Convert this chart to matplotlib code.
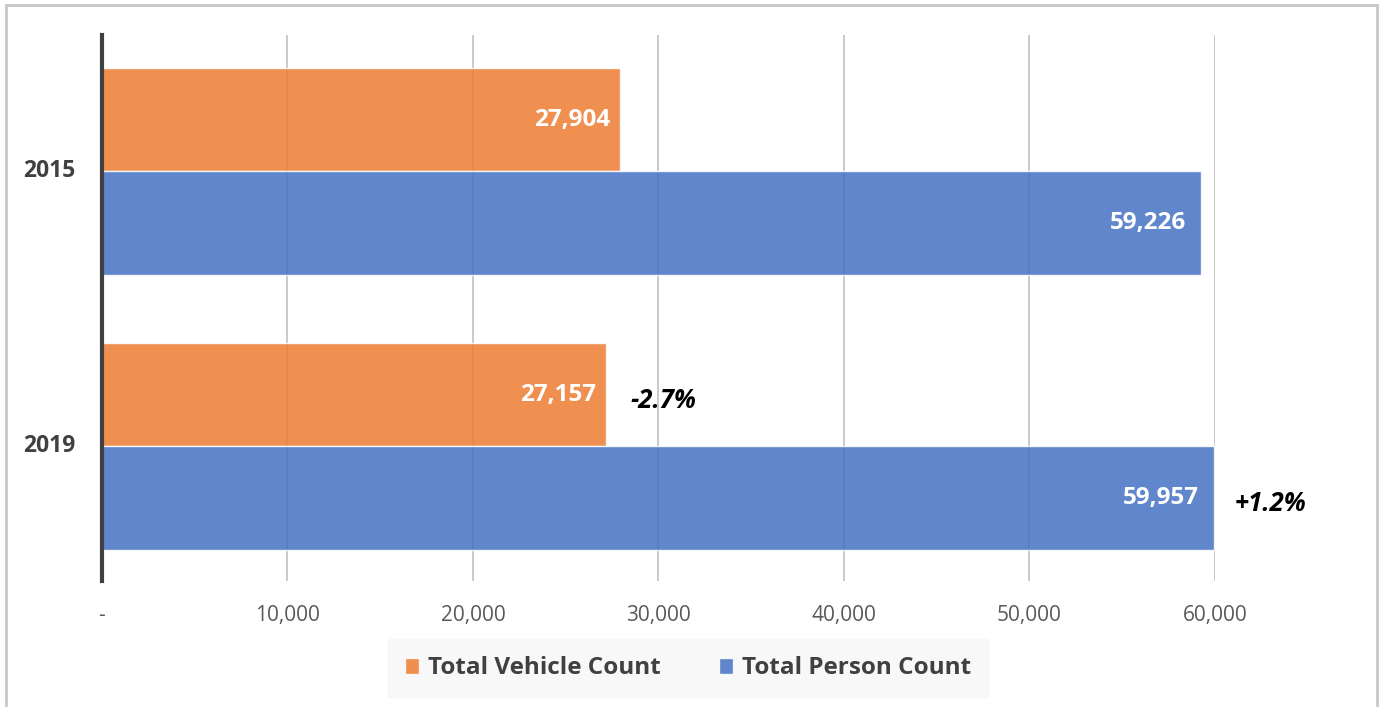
import matplotlib.pyplot as plt
import numpy as np
from matplotlib.patches import Rectangle

plt.rcParams['font.family'] = ['Open Sans', 'DejaVu Sans']

years = ['2015', '2019']
vehicle = [27904, 27157]
person = [59226, 59957]
vehicle_labels = ['27,904', '27,157']
person_labels = ['59,226', '59,957']
changes = ['', '-2.7%']
person_changes = ['', '+1.2%']
ticks = [0, 10000, 20000, 30000, 40000, 50000, 60000]
tick_labels = ['-', '10,000', '20,000', '30,000', '40,000', '50,000', '60,000']

orange = '#ED7D31'
blue = '#4472C4'

fig = plt.figure(figsize=(13.8, 7.07), dpi=100)
fig.patches.append(Rectangle((0.0040, -0.01), 0.9935, 1.003, transform=fig.transFigure,
                             fill=False, edgecolor='#C8C8C8', linewidth=2))
ax = fig.add_axes([0.0739, 0.178, 0.8065, 0.7725])

y = np.arange(len(years))
h = 0.376
ax.barh(y - h / 2, vehicle, height=h, color=orange, alpha=0.85, edgecolor='white',
        linewidth=1, zorder=3, label='Total Vehicle Count')
ax.barh(y + h / 2, person, height=h, color=blue, alpha=0.85, edgecolor='white',
        linewidth=1, zorder=3, label='Total Person Count')

for i in range(len(years)):
    ax.text(vehicle[i] - 500, y[i] - h / 2, vehicle_labels[i], ha='right', va='center',
            color='white', fontsize=17.5, fontweight='bold', zorder=4)
    ax.text(person[i] - 800, y[i] + h / 2, person_labels[i], ha='right', va='center',
            color='white', fontsize=17.5, fontweight='bold', zorder=4)
    if changes[i]:
        ax.text(vehicle[i] + 1350, y[i] - h / 2 + 0.02, changes[i], ha='left', va='center',
                color='black', fontsize=18.5, fontweight='bold', style='italic', zorder=4)
    if person_changes[i]:
        ax.text(person[i] + 1100, y[i] + h / 2 + 0.02, person_changes[i], ha='left', va='center',
                color='black', fontsize=18.5, fontweight='bold', style='italic', zorder=4,
                clip_on=False)
    ax.text(-0.0705, y[i], years[i], transform=ax.get_yaxis_transform(), ha='left',
            va='center', fontsize=16.5, fontweight='bold', color='#404040')

ax.set_xlim(0, 60000)
ax.set_ylim(1.49, -0.496)
ax.set_yticks([])
ax.set_xticks(ticks)
ax.set_xticklabels(tick_labels, fontsize=15, color='#595959')
ax.tick_params(axis='both', length=0)
ax.tick_params(axis='x', pad=17)

ax.grid(axis='x', color='#C0C0C0', linewidth=1.2, zorder=0)
ax.set_axisbelow(True)
for s in ['top', 'right', 'bottom']:
    ax.spines[s].set_visible(False)
ax.spines['left'].set_color('#404040')
ax.spines['left'].set_linewidth(3)
ax.spines['left'].set_zorder(5)

leg = fig.legend(loc='center', bbox_to_anchor=(0.4985, 0.0545), ncol=2, frameon=True,
                 fancybox=False, facecolor='#F7F7F7', edgecolor='#F7F7F7',
                 prop={'size': 17.5, 'weight': 'bold'}, handlelength=0.6, handleheight=0.6,
                 handletextpad=0.35, columnspacing=2.4, borderpad=0.45, borderaxespad=0)
leg.get_frame().set_boxstyle('square', pad=0.25)
for t in leg.get_texts():
    t.set_color('#404040')

fig.savefig('out.png', dpi=100)
